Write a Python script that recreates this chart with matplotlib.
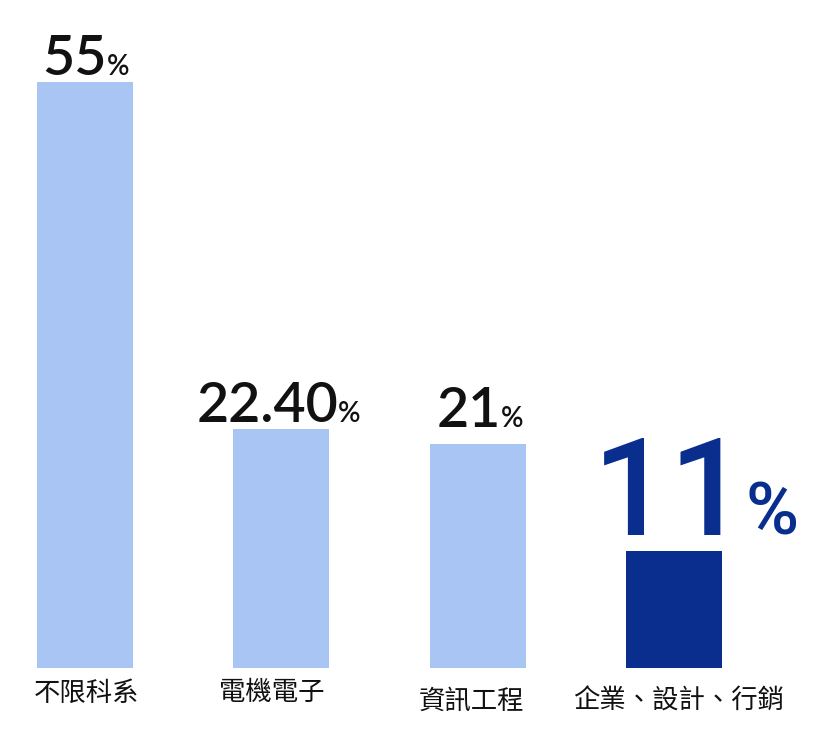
import numpy as np
import matplotlib.pyplot as plt

plt.rcParams['font.family'] = ['Noto Sans CJK TC', 'DejaVu Sans']

# data
categories = ['不限科系', '電機電子', '資訊工程', '企業、設計、行銷']
values = [55, 22.4, 21, 11]
value_text = ['55', '22.40', '21', '11']

LIGHT = '#A9C5F4'
DARK = '#0A2E8E'
colors = [LIGHT, LIGHT, LIGHT, DARK]

W, H, DPI = 824, 737, 100
fig = plt.figure(figsize=(W / DPI, H / DPI), dpi=DPI)
ax = fig.add_axes([0, 0, 1, 1])

# pixel layout -> data limits
step = 196.3          # px between bar centres
x0 = 85               # px of first bar centre
base = 737 - 668      # px from bottom of bar baseline
scale = 586 / 55      # px per percent
ax.set_xlim(-x0 / step, (W - x0) / step)
ax.set_ylim(-base / scale, (H - base) / scale)
ax.axis('off')

x = np.arange(len(values))
ax.bar(x, values, width=96 / step, color=colors)

r = fig.canvas.get_renderer()
px2pt = 72 / DPI


def pct_label(xi, v, num, fs_num, fs_pct, color, gap_px, shift_px=0,
              family='Lato', weight='semibold', pct_gap=0):
    kw = dict(xy=(xi, v), textcoords='offset points', va='baseline', ha='left',
              color=color, family=[family, 'DejaVu Sans'], weight=weight)
    t1 = ax.annotate(num, xytext=(0, 0), fontsize=fs_num, **kw)
    t2 = ax.annotate('%', xytext=(0, 0), fontsize=fs_pct, **kw)
    w1 = t1.get_window_extent(r).width + pct_gap
    w2 = t2.get_window_extent(r).width
    left = -(w1 + w2) / 2 + shift_px
    t1.xyann = (left * px2pt, gap_px * px2pt)
    t2.xyann = ((left + w1) * px2pt, gap_px * px2pt)


pct_label(x[0], values[0], value_text[0], 40, 20, '#111111', 7, 1)
pct_label(x[1], values[1], value_text[1], 40, 20, '#111111', 7, -3)
pct_label(x[2], values[2], value_text[2], 40, 20, '#111111', 17, 2)
pct_label(x[3], values[3], value_text[3], 98, 52, DARK, 16, 22,
          family='Roboto', weight='medium', pct_gap=-2)

# category labels under the bars
label_dx = [2, -10, -6, 5]
label_dy = [-25, -24, -33, -33]
for xi, cat, dx, dy in zip(x, categories, label_dx, label_dy):
    ax.annotate(cat, (xi, 0), xytext=(dx * px2pt, dy * px2pt), textcoords='offset points',
                ha='center', va='center', fontsize=19, color='#111111', weight='medium')

fig.savefig('out.png', dpi=DPI)
